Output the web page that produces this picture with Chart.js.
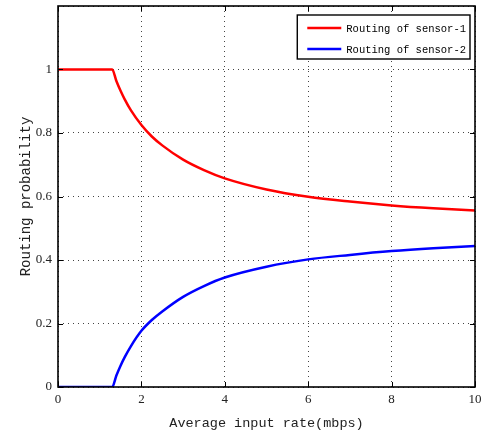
<!DOCTYPE html>
<html>
<head>
<meta charset="utf-8">
<script src="https://cdn.jsdelivr.net/npm/chart.js@4"></script>
<style>
    body { margin: 0; background: #fff; }
    #routingChart { display: block; }
</style>
</head>
<body>
<canvas id="routingChart" width="483" height="432"></canvas>
<script>
// Values
const rateValues = [0, 1.3, 1.4, 1.5, 1.6, 1.75, 2, 2.25, 2.5, 3, 3.5, 4, 5, 6, 7, 8, 9, 10];
const sensor1Values = [1, 1, 0.964, 0.933, 0.906, 0.871, 0.825, 0.789, 0.761, 0.716, 0.683, 0.657, 0.622, 0.599, 0.584, 0.572, 0.563, 0.556];
const sensor2Values = [0, 0, 0.036, 0.067, 0.094, 0.129, 0.177, 0.211, 0.238, 0.284, 0.318, 0.345, 0.379, 0.402, 0.416, 0.428, 0.437, 0.444];
const seriesLabels = ['Routing of sensor-1', 'Routing of sensor-2'];
const seriesColors = ['#ff0000', '#0000ff'];
const xTicks = [0, 2, 4, 6, 8, 10];
const yTicks = [0, 0.2, 0.4, 0.6, 0.8, 1];

const monoFont = '"Liberation Mono", monospace';
const tickFont = '"Liberation Serif", serif';

function toPoints(values) {
    return rateValues.map((x, i) => ({ x: x, y: values[i] }));
}

// Box around the plot plus inward tick marks (MATLAB style)
const framePlugin = {
    id: 'frame',
    afterDraw(chart) {
        const ctx = chart.ctx;
        const area = chart.chartArea;
        const xs = chart.scales.x;
        const ys = chart.scales.y;
        ctx.save();
        ctx.strokeStyle = '#000';
        ctx.lineWidth = 1;
        ctx.beginPath();
        xTicks.forEach(v => {
            const px = Math.round(xs.getPixelForValue(v)) + 0.5;
            ctx.moveTo(px, area.bottom); ctx.lineTo(px, area.bottom - 5);
            ctx.moveTo(px, area.top); ctx.lineTo(px, area.top + 5);
        });
        yTicks.forEach(v => {
            const py = Math.round(ys.getPixelForValue(v)) + 0.5;
            ctx.moveTo(area.left, py); ctx.lineTo(area.left + 5, py);
            ctx.moveTo(area.right, py); ctx.lineTo(area.right - 5, py);
        });
        ctx.stroke();
        ctx.lineWidth = 1.6;
        ctx.strokeRect(area.left, area.top, area.right - area.left, area.bottom - area.top);
        ctx.restore();
    }
};

// Legend drawn inside the plot, top right
const boxLegendPlugin = {
    id: 'boxLegend',
    afterDraw(chart) {
        const ctx = chart.ctx;
        const area = chart.chartArea;
        ctx.save();
        ctx.font = '10.5px ' + monoFont;
        const textW = Math.max(...seriesLabels.map(t => ctx.measureText(t).width));
        const boxW = 49 + textW + 4;
        const boxH = 44;
        const right = area.right - 5;
        const left = right - boxW;
        const top = area.top + 9;
        ctx.fillStyle = '#fff';
        ctx.fillRect(left, top, boxW, boxH);
        ctx.strokeStyle = '#000';
        ctx.lineWidth = 1.4;
        ctx.strokeRect(left, top, boxW, boxH);
        chart.data.datasets.forEach((ds, i) => {
            const y = top + 13 + i * 21;
            ctx.strokeStyle = ds.borderColor;
            ctx.lineWidth = 2.5;
            ctx.beginPath();
            ctx.moveTo(left + 10, y);
            ctx.lineTo(left + 44, y);
            ctx.stroke();
            ctx.fillStyle = '#000';
            ctx.textBaseline = 'middle';
            ctx.fillText(ds.label, left + 49, y + 1);
        });
        ctx.restore();
    }
};

const ctx = document.getElementById('routingChart').getContext('2d');

new Chart(ctx, {
    type: 'line',
    data: {
        datasets: [
            {
                label: seriesLabels[0],
                data: toPoints(sensor1Values),
                borderColor: seriesColors[0],
                borderWidth: 2.5,
                pointRadius: 0,
                cubicInterpolationMode: 'monotone',
                fill: false
            },
            {
                label: seriesLabels[1],
                data: toPoints(sensor2Values),
                borderColor: seriesColors[1],
                borderWidth: 2.5,
                pointRadius: 0,
                cubicInterpolationMode: 'monotone',
                fill: false
            }
        ]
    },
    options: {
        responsive: false,
        animation: false,
        layout: { padding: { top: 6, right: 8, left: 0, bottom: 0 } },
        plugins: {
            legend: { display: false },
            tooltip: { enabled: false }
        },
        scales: {
            x: {
                type: 'linear',
                min: 0,
                max: 10,
                afterBuildTicks: scale => { scale.ticks = xTicks.map(v => ({ value: v })); },
                afterFit: scale => {
                    scale.height = 45;
                    scale.paddingLeft = 0;
                    scale.paddingRight = 0;
                },
                ticks: {
                    color: '#222',
                    font: { family: tickFont, size: 13 },
                    padding: 5,
                    maxRotation: 0
                },
                grid: {
                    color: '#444',
                    drawTicks: false
                },
                border: { display: false, dash: [1, 4] },
                title: {
                    display: true,
                    text: 'Average input rate(mbps)',
                    color: '#222',
                    font: { family: monoFont, size: 13.5 },
                    padding: { top: 5, bottom: 0 }
                }
            },
            y: {
                min: 0,
                max: 1.2,
                afterBuildTicks: scale => { scale.ticks = yTicks.concat([1.2]).map(v => ({ value: v })); },
                afterFit: scale => {
                    scale.width = 58;
                    scale.paddingTop = 0;
                    scale.paddingBottom = 0;
                },
                ticks: {
                    color: '#222',
                    font: { family: tickFont, size: 13 },
                    padding: 6,
                    callback: v => v > 1.01 ? '' : String(+v.toFixed(1))
                },
                grid: {
                    color: '#444',
                    drawTicks: false
                },
                border: { display: false, dash: [1, 4] },
                title: {
                    display: true,
                    text: 'Routing probability',
                    color: '#222',
                    font: { family: monoFont, size: 14 },
                    padding: { top: 18, bottom: 0 }
                }
            }
        }
    },
    plugins: [framePlugin, boxLegendPlugin]
});
</script>
</body>
</html>
